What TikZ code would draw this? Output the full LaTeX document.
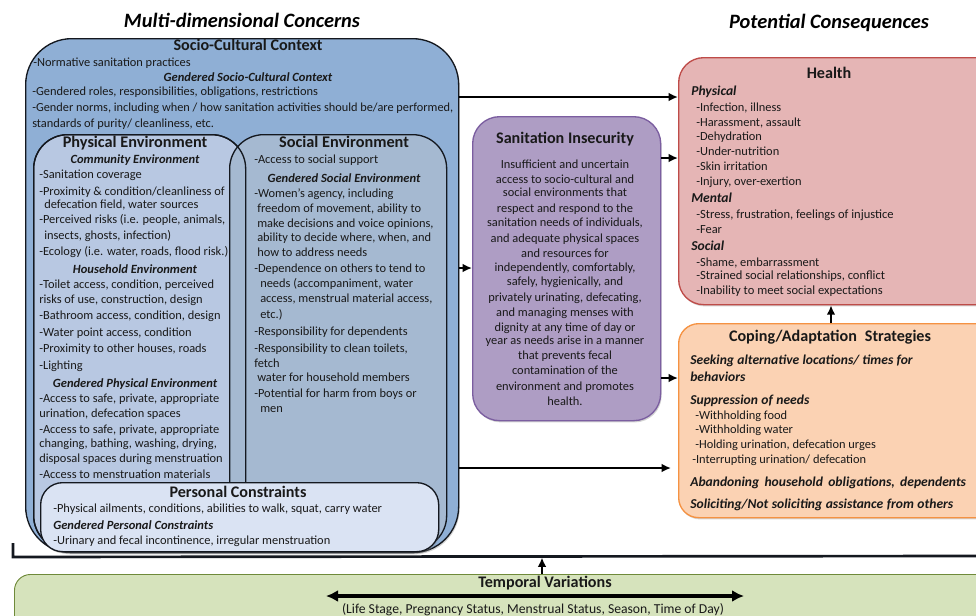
\documentclass[tikz,border=0pt]{standalone}
\usepackage{fontspec}
\setmainfont{Carlito}
\usetikzlibrary{arrows.meta,shadows,calc}
\definecolor{outerfill}{HTML}{8FAFD5}
\definecolor{physfill}{HTML}{B8C8E2}
\definecolor{socfill}{HTML}{A5B9D1}
\definecolor{persfill}{HTML}{DAE3F3}
\definecolor{sanfill}{HTML}{AE9DC4}
\definecolor{sanline}{HTML}{7B5EA0}
\definecolor{healthfill}{HTML}{E5B5B5}
\definecolor{healthline}{HTML}{BE4B48}
\definecolor{copefill}{HTML}{FBD2B3}
\definecolor{copeline}{HTML}{F59242}
\definecolor{tempfill}{HTML}{D6E3BC}
\definecolor{templine}{HTML}{6F8A3A}
\definecolor{inkline}{HTML}{14181F}
\newcounter{txtc}
\tikzset{
  softshadow/.style={drop shadow={opacity=.35,shadow xshift=.8pt,shadow yshift=-1.3pt}},
  panel/.style={draw=inkline,line width=1pt,inner sep=0pt,anchor=north west},
  conn/.style={draw=black,line width=1.7pt,-{Latex[length=7pt,width=6.5pt]}},
  txt/.style={inner sep=0pt,text=black!90,font=\fontsize{9.3pt}{11pt}\selectfont},
  lft/.style={txt,anchor=base west},
  ctr/.style={txt,anchor=base},
  sub/.style={font=\fontsize{9.4pt}{11pt}\selectfont\bfseries\itshape},
  subbig/.style={font=\fontsize{10.2pt}{12pt}\selectfont\bfseries\itshape},
  head/.style={font=\fontsize{12.1pt}{14pt}\selectfont\bfseries},
  bighead/.style={font=\fontsize{12.2pt}{14pt}\selectfont\bfseries},
  title/.style={font=\fontsize{15.3pt}{18pt}\selectfont\bfseries\itshape,text=black},
  note/.style={font=\fontsize{10.25pt}{12pt}\selectfont},
  snug/.style={font=\fontsize{9.24pt}{11pt}\selectfont},
  wider/.style={font=\fontsize{9.4pt}{11pt}\selectfont},
}
% box from pixel corners: style, name, x1, y1, x2, y2, radius
\newcommand{\pxbox}[7]{%
  \pgfmathsetmacro{\bw}{(#5-#3)*0.75}\pgfmathsetmacro{\bh}{(#6-#4)*0.75}\pgfmathsetmacro{\br}{#7*0.75}%
  \node[panel,#1,rounded corners=\br pt,minimum width=\bw pt,minimum height=\bh pt] (#2) at (#3,#4) {};}
\newcommand{\tl}[4][]{\stepcounter{txtc}\node[lft,#1] (t\thetxtc) at (#2,#3) {#4};}
\newcommand{\tc}[4][]{\stepcounter{txtc}\node[ctr,#1] (t\thetxtc) at (#2,#3) {#4};}
\newcommand{\wide}[2]{{\spaceskip=#1\relax #2}}
\begin{document}
\begin{tikzpicture}[x=0.75pt,y=-0.75pt]
\useasboundingbox (0,0) rectangle (976,615);
\clip (0,0) rectangle (976,615);
% titles
\tc[title]{242}{27}{Multi-dimensional Concerns}
\tc[title]{829}{28}{Potential Consequences}
% containers
\pxbox{fill=outerfill,softshadow}{outer}{25}{38}{458}{552}{46}
\pxbox{fill=physfill}{phys}{33}{134}{245}{549}{34}
\pxbox{fill=socfill}{soc}{229}{134}{446}{549}{34}
\pxbox{}{physedge}{33}{134}{245}{549}{34}
\pxbox{fill=persfill,softshadow}{pers}{40}{482}{438}{551}{22}
\pxbox{fill=sanfill,draw=sanline,softshadow}{san}{472}{116}{660}{420}{27}
\pxbox{fill=healthfill,draw=healthline,softshadow}{health}{678}{57}{1000}{304}{25}
\pxbox{fill=copefill,draw=copeline,softshadow}{cope}{678}{323}{1000}{517}{20}
\pxbox{fill=tempfill,draw=templine,line width=.7pt}{temp}{14}{574}{1000}{640}{16}
% connectors
\draw[conn] (outer.east |- 0,97) -- (health.west |- 0,97);
\draw[conn] (san.east |- 0,158) -- (health.west |- 0,158);
\draw[conn] (outer.east |- 0,268) -- (san.west |- 0,268);
\draw[conn] (san.east |- 0,378) -- (cope.west |- 0,378);
\coordinate (midend) at (671,468);
\draw[conn] (outer.east |- midend) -- (midend);
\draw[conn] (cope.north -| 831,0) -- (health.south -| 831,0);
\coordinate (brA) at (13,543);
\coordinate (brB) at (13,557);
\coordinate (brC) at (976,556);
\draw[line width=2pt,inkline] (brA) -- (brB) -- (brC);
\coordinate (barup) at (542,557.5);
\draw[conn] (temp.north -| barup) -- (barup);
\coordinate (dblL) at (326,596);
\coordinate (dblR) at (744,596);
\draw[line width=2.4pt,{Latex[length=9pt,width=9pt]}-{Latex[length=9pt,width=9pt]}] (dblL) -- (dblR);
% socio-cultural
\tc[head]{248}{50}{Socio-Cultural Context}
\tl{33}{66}{-Normative sanitation practices}
\tc[sub]{248}{81}{Gendered Socio-Cultural Context}
\tl{32}{95}{-Gendered roles, responsibilities, obligations, restrictions}
\tl[snug]{32}{111}{-Gender norms, including when / how sanitation activities should be/are performed,}
\tl{32}{127}{standards of purity/ cleanliness, etc.}
% physical
\tc[bighead]{135}{147}{Physical Environment}
\tc[sub]{135}{163}{Community Environment}
\tl{39}{178}{-Sanitation coverage}
\tl{39}{195}{-Proximity \& condition/cleanliness of}
\tl{44}{208}{defecation field, water sources}
\tl{39}{223}{-Perceived risks (i.e. people, animals,}
\tl{44}{239}{insects, ghosts, infection)}
\tl{39}{255}{-Ecology (i.e. water, roads, flood risk.)}
\tc[sub]{135}{273}{Household Environment}
\tl{39}{288}{-Toilet access, condition, perceived}
\tl{39}{303}{risks of use, construction, design}
\tl{39}{319}{-Bathroom access, condition, design}
\tl{39}{336}{-Water point access, condition}
\tl{39}{352}{-Proximity to other houses, roads}
\tl{39}{369}{-Lighting}
\tc[sub]{135}{387}{Gendered Physical Environment}
\tl{39}{402}{-Access to safe, private, appropriate}
\tl{39}{417}{urination, defecation spaces}
\tl{39}{433}{-Access to safe, private, appropriate}
\tl{39}{447}{changing, bathing, washing, drying,}
\tl{39}{462}{disposal spaces during menstruation}
\tl{39}{478}{-Access to menstruation materials}
% social
\tc[bighead]{344}{147}{Social Environment}
\tl{254}{163}{-Access to social support}
\tc[sub]{344}{182}{Gendered Social Environment}
\tl{254}{197}{-Women’s agency, including}
\tl{257}{212}{freedom of movement, ability to}
\tl{257}{227}{make decisions and voice opinions,}
\tl{257}{241}{ability to decide where, when, and}
\tl{257}{256}{how to address needs}
\tl{254}{272}{-Dependence on others to tend to}
\tl{260}{287}{needs (accompaniment, water}
\tl{260}{302}{access, menstrual material access,}
\tl{260}{318}{etc.)}
\tl{254}{335}{-Responsibility for dependents}
\tl{254}{352}{-Responsibility to clean toilets,}
\tl{254}{367}{fetch}
\tl{257}{381}{water for household members}
\tl{254}{397}{-Potential for harm from boys or}
\tl{260}{412}{men}
% personal
\tc[head]{238}{497}{Personal Constraints}
\tl{53}{512}{-Physical ailments, conditions, abilities to walk, squat, carry water}
\tl[sub]{53}{529}{Gendered Personal Constraints}
\tl{53}{544}{-Urinary and fecal incontinence, irregular menstruation}
% sanitation insecurity
\tc[head]{565}{143}{Sanitation Insecurity}
\tc{565}{168}{Insufficient and uncertain}
\tc{565}{183}{access to socio-cultural and}
\tc{565}{196}{social environments that}
\tc{565}{212}{respect and respond to the}
\tc{565}{226}{sanitation needs of individuals,}
\tc{565}{242}{and adequate physical spaces}
\tc{565}{257}{and resources for}
\tc{565}{271}{independently, comfortably,}
\tc{565}{285}{safely, hygienically, and}
\tc{565}{301}{privately urinating, defecating,}
\tc{565}{316}{and managing menses with}
\tc{565}{331}{dignity at any time of day or}
\tc{565}{344}{year as needs arise in a manner}
\tc{565}{359}{that prevents fecal}
\tc{565}{374}{contamination of the}
\tc{565}{390}{environment and promotes}
\tc{565}{405}{health.}
% health
\tc[head]{829}{78}{Health}
\tl[subbig]{691}{95}{Physical}
\tl{696}{111}{-Infection, illness}
\tl{696}{126}{-Harassment, assault}
\tl{696}{140}{-Dehydration}
\tl{696}{155}{-Under-nutrition}
\tl{696}{170}{-Skin irritation}
\tl{696}{185}{-Injury, over-exertion}
\tl[subbig]{691}{202}{Mental}
\tl[wider]{696}{218}{-Stress, frustration, feelings of injustice}
\tl{696}{233}{-Fear}
\tl[subbig]{691}{250}{Social}
\tl{696}{266}{-Shame, embarrassment}
\tl[wider]{696}{279}{-Strained social relationships, conflict}
\tl[wider]{696}{294}{-Inability to meet social expectations}
% coping
\tc[head]{830}{341}{\wide{6pt}{Coping/Adaptation Strategies}}
\tl[subbig]{690}{364}{\wide{2.4pt}{Seeking alternative locations/ times for}}
\tl[subbig]{690}{381}{behaviors}
\tl[subbig]{690}{404}{\wide{2.6pt}{Suppression of needs}}
\tl{695}{419}{-Withholding food}
\tl{695}{433}{-Withholding water}
\tl{695}{448}{-Holding urination, defecation urges}
\tl{692}{463}{-Interrupting urination/ defecation}
\tl[subbig]{690}{486}{\wide{4pt}{Abandoning household obligations, dependents}}
\tl[subbig]{690}{508}{\wide{2.6pt}{Soliciting/Not soliciting assistance from others}}
% temporal
\tc[head]{545}{587}{Temporal Variations}
\tc[note]{533}{613}{(Life Stage, Pregnancy Status, Menstrual Status, Season, Time of Day)}
\end{tikzpicture}
\end{document}
